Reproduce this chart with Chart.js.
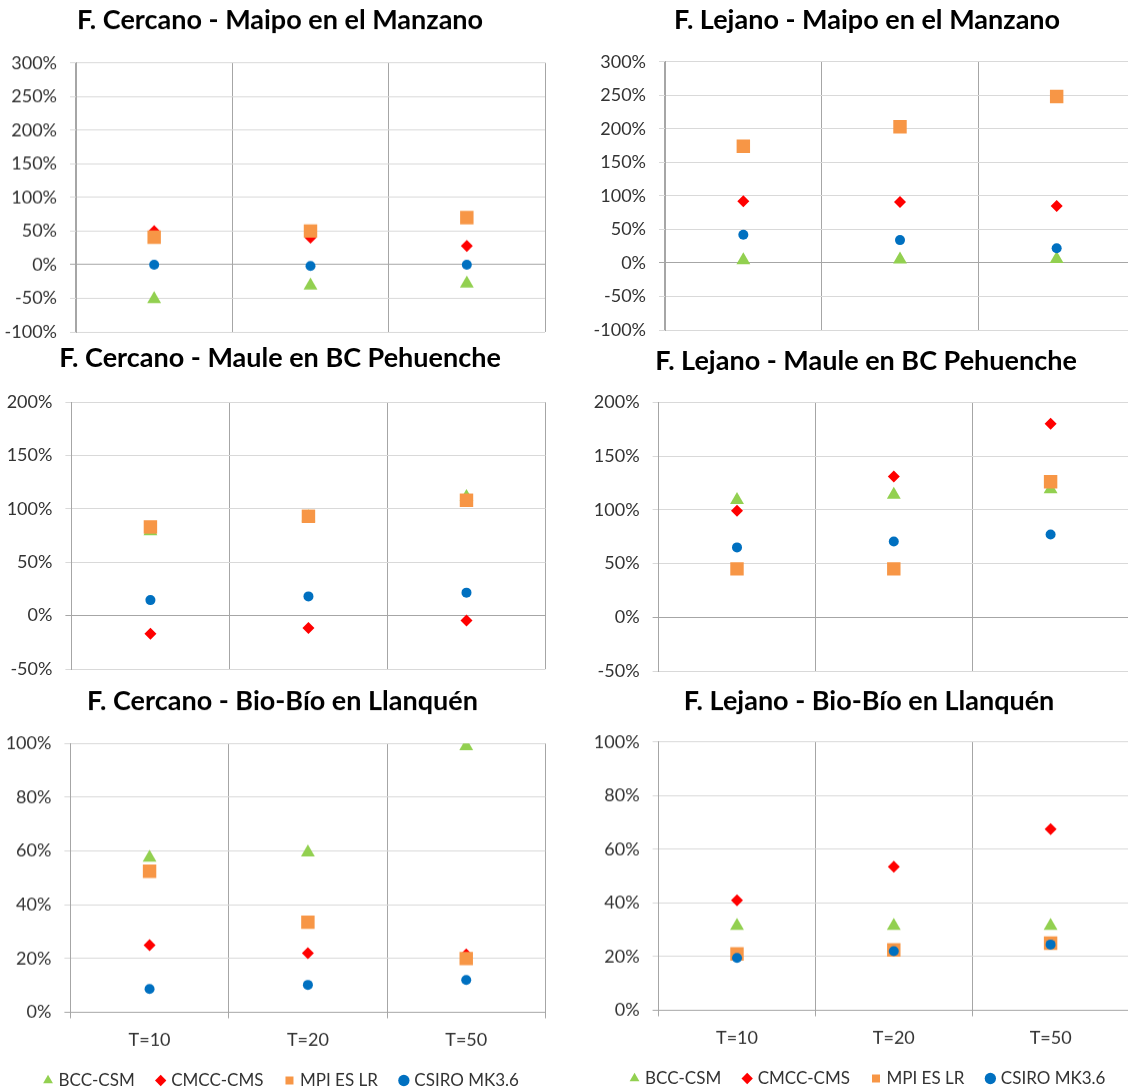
<!DOCTYPE html>
<html>
<head>
<meta charset="utf-8">
<title>Escenarios de caudales</title>
<script src="https://cdn.jsdelivr.net/npm/chart.js@4.4.1/dist/chart.umd.min.js"></script>
<style>
  html, body { margin: 0; padding: 0; background: #fff; overflow: hidden; width: 1128px; height: 1089px; }
  body { position: relative; }
  canvas { position: absolute; }
</style>
</head>
<body>
<canvas id="c1"></canvas>
<canvas id="c2"></canvas>
<canvas id="c3"></canvas>
<canvas id="c4"></canvas>
<canvas id="c5"></canvas>
<canvas id="c6"></canvas>
<script>
const categories = ['T=10', 'T=20', 'T=50'];
const seriesNames = ['BCC-CSM', 'CMCC-CMS', 'MPI ES LR', 'CSIRO MK3.6'];
const seriesColors = ['#92D050', '#FF0000', '#F79646', '#0070C0'];
const seriesShapes = ['triangle', 'rectRot', 'rect', 'circle'];
const seriesRadius = [8, 6, 9.5, 5];

const ticksMaipo = [-100, -50, 0, 50, 100, 150, 200, 250, 300];
const ticksMaule = [-50, 0, 50, 100, 150, 200];
const ticksBiobio = [0, 20, 40, 60, 80, 100];

// F. Cercano - Maipo en el Manzano
const cercanoMaipoBcc = [-51, -31, -28];
const cercanoMaipoCmcc = [50, 40, 28];
const cercanoMaipoMpi = [41, 50, 70];
const cercanoMaipoCsiro = [0, -2, 0];
// F. Lejano - Maipo en el Manzano
const lejanoMaipoBcc = [4, 5, 6];
const lejanoMaipoCmcc = [92, 91, 85];
const lejanoMaipoMpi = [174, 203, 248];
const lejanoMaipoCsiro = [42, 34, 22];
// F. Cercano - Maule en BC Pehuenche
const cercanoMauleBcc = [79, 92, 111];
const cercanoMauleCmcc = [-17, -11.5, -4.5];
const cercanoMauleMpi = [83, 93, 108];
const cercanoMauleCsiro = [14.5, 18, 21.5];
// F. Lejano - Maule en BC Pehuenche
const lejanoMauleBcc = [109, 114, 119];
const lejanoMauleCmcc = [99, 131, 180];
const lejanoMauleMpi = [45, 45, 126];
const lejanoMauleCsiro = [65, 70.5, 77];
// F. Cercano - Bio-Bío en Llanquén
const cercanoBiobioBcc = [57.5, 59.5, 99];
const cercanoBiobioCmcc = [25, 22, 21.5];
const cercanoBiobioMpi = [52.5, 33.5, 20];
const cercanoBiobioCsiro = [8.7, 10.2, 12];
// F. Lejano - Bio-Bío en Llanquén
const lejanoBiobioBcc = [31.5, 31.5, 31.5];
const lejanoBiobioCmcc = [41, 53.5, 67.5];
const lejanoBiobioMpi = [21, 22.5, 25];
const lejanoBiobioCsiro = [19.5, 22, 24.5];

// canvas placement. title/legend are centred on the canvas, an empty
// right-hand axis (rightWidth) pulls the plot's right edge in
const panels = [
  { id: 'c1', title: 'F. Cercano - Maipo en el Manzano', ticks: ticksMaipo,
    data: [cercanoMaipoBcc, cercanoMaipoCmcc, cercanoMaipoMpi, cercanoMaipoCsiro],
    left: 0, top: 0, width: 560, height: 361.5, titleTop: 4.5, titleBottom: 25.8,
    axisWidth: 76, rightWidth: 15, padBottom: 30, bottomRow: false },
  { id: 'c2', title: 'F. Lejano - Maipo en el Manzano', ticks: ticksMaipo,
    data: [lejanoMaipoBcc, lejanoMaipoCmcc, lejanoMaipoMpi, lejanoMaipoCsiro],
    left: 564, top: 0, width: 606, height: 360, titleTop: 3.8, titleBottom: 25.5,
    axisWidth: 101, rightWidth: 35, padBottom: 30, bottomRow: false },
  { id: 'c3', title: 'F. Cercano - Maule en BC Pehuenche', ticks: ticksMaule,
    data: [cercanoMauleBcc, cercanoMauleCmcc, cercanoMauleMpi, cercanoMauleCsiro],
    left: 0, top: 340, width: 560, height: 359.3, titleTop: 1.8, titleBottom: 27.8,
    axisWidth: 71.4, rightWidth: 14.5, padBottom: 30, bottomRow: false },
  { id: 'c4', title: 'F. Lejano - Maule en BC Pehuenche', ticks: ticksMaule,
    data: [lejanoMauleBcc, lejanoMauleCmcc, lejanoMauleMpi, lejanoMauleCsiro],
    left: 564, top: 340, width: 604, height: 361, titleTop: 4.8, titleBottom: 25.1,
    axisWidth: 94.6, rightWidth: 39, padBottom: 30, bottomRow: false },
  { id: 'c5', title: 'F. Cercano - Bio-Bío en Llanquén', ticks: ticksBiobio,
    data: [cercanoBiobioBcc, cercanoBiobioCmcc, cercanoBiobioMpi, cercanoBiobioCsiro],
    left: 0, top: 680, width: 565, height: 418.5, titleTop: 4.8, titleBottom: 26.1,
    axisWidth: 70.4, rightWidth: 19.6, padBottom: 0, bottomRow: true },
  { id: 'c6', title: 'F. Lejano - Bio-Bío en Llanquén', ticks: ticksBiobio,
    data: [lejanoBiobioBcc, lejanoBiobioCmcc, lejanoBiobioMpi, lejanoBiobioCsiro],
    left: 564, top: 680, width: 610, height: 416.5, titleTop: 4.8, titleBottom: 24.5,
    axisWidth: 94.6, rightWidth: 45, padBottom: 0, bottomRow: true }
];

const tickFont = { family: 'Lato', size: 18 };
const legendFont = { family: 'Lato', size: 17 };

function buildChart(p) {
  const canvas = document.getElementById(p.id);
  canvas.width = p.width;
  canvas.height = p.height;
  canvas.style.left = p.left + 'px';
  canvas.style.top = p.top + 'px';
  canvas.style.width = p.width + 'px';
  canvas.style.height = p.height + 'px';

  const datasets = seriesNames.map((name, i) => ({
    label: name,
    data: p.data[i],
    showLine: false,
    pointStyle: seriesShapes[i],
    pointRadius: seriesRadius[i],
    pointHoverRadius: seriesRadius[i],
    backgroundColor: seriesColors[i],
    borderColor: seriesColors[i],
    borderWidth: 0,
    pointBorderWidth: 0,
    order: 4 - i
  }));

  new Chart(canvas, {
    type: 'line',
    data: { labels: categories, datasets: datasets },
    options: {
      responsive: false,
      animation: false,
      devicePixelRatio: 1,
      events: [],
      layout: { padding: { left: 0, right: 0, top: 0, bottom: p.padBottom } },
      plugins: {
        title: {
          display: true,
          text: p.title,
          color: '#000',
          font: { family: 'Lato', size: 27, weight: 'bold' },
          padding: { top: p.titleTop, bottom: p.titleBottom }
        },
        legend: {
          display: p.bottomRow,
          position: 'bottom',
          labels: {
            usePointStyle: true,
            boxWidth: 4,
            boxHeight: 8,
            padding: 24,
            color: '#333',
            font: legendFont,
            sort: (a, b) => a.datasetIndex - b.datasetIndex
          }
        },
        tooltip: { enabled: false }
      },
      scales: {
        x: {
          offset: true,
          grid: { offset: true, color: '#A6A6A6', drawTicks: p.bottomRow, tickLength: 6 },
          border: { display: false },
          ticks: { display: p.bottomRow, padding: 11, color: '#333', font: tickFont },
          afterFit: (s) => { s.height = p.bottomRow ? 35.5 : 0; }
        },
        y: {
          min: p.ticks[0],
          max: p.ticks[p.ticks.length - 1],
          ticks: {
            stepSize: p.ticks[1] - p.ticks[0],
            callback: (v) => v + '%',
            padding: 13,
            color: '#333',
            font: tickFont
          },
          grid: {
            color: (c) => (c.tick && c.tick.value === 0 ? '#A6A6A6' : '#D9D9D9'),
            tickLength: 6
          },
          border: { color: '#A6A6A6' },
          afterFit: (s) => { s.width = p.axisWidth; }
        },
        yRight: {
          position: 'right',
          grid: { display: false, drawTicks: false },
          border: { display: false },
          ticks: { display: false },
          afterFit: (s) => { s.width = p.rightWidth; }
        }
      }
    }
  });
}

panels.forEach(buildChart);
</script>
</body>
</html>
